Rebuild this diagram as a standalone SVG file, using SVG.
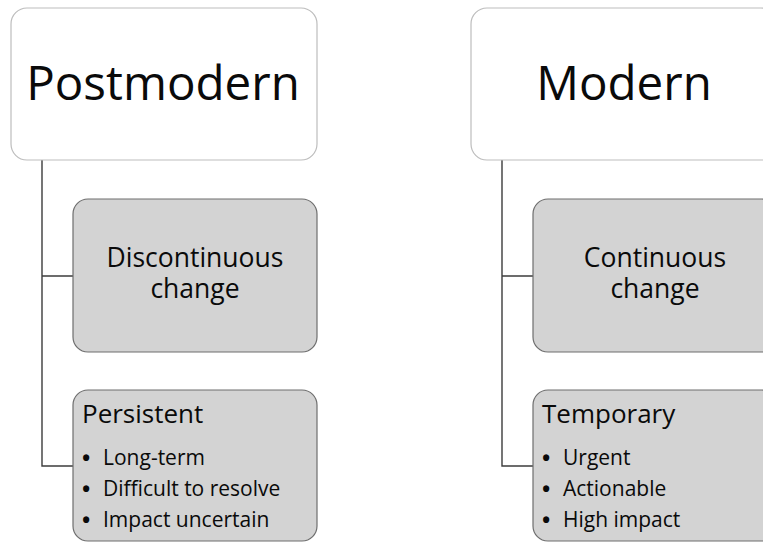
<svg xmlns="http://www.w3.org/2000/svg" width="763" height="543" viewBox="0 0 763 543">
  <style>
    .head { fill: #ffffff; stroke: #bdbdbd; stroke-width: 1.2; }
    .item { fill: #d3d3d3; stroke: #6e6e6e; stroke-width: 1.2; }
    .link { fill: none; stroke: #3c3c3c; stroke-width: 1.4; }
    text { font-family: "Open Sans", "Noto Sans", "Liberation Sans", sans-serif; fill: #0a0a0a; }
    .big { font-size: 47.5px; text-anchor: middle; }
    .mid { font-size: 26.5px; text-anchor: middle; }
    .title { font-size: 26px; }
    .bul { font-size: 21px; }
    .dot { font-size: 22px; font-weight: bold; }
  </style>

  <g id="connectors">
    <path class="link" d="M42,160 V466 H73 M42,276 H73"/>
    <path class="link" d="M502,160 V466 H533 M502,276 H533"/>
  </g>

  <g id="postmodern">
    <rect class="head" x="11" y="8" width="306" height="152" rx="16"/>
    <text class="big" x="163" y="100">Postmodern</text>
  </g>
  <g id="discontinuous">
    <rect class="item" x="73" y="199" width="244" height="153" rx="15"/>
    <text class="mid" x="195" y="267">Discontinuous<tspan x="195" dy="31">change</tspan></text>
  </g>
  <g id="persistent">
    <rect class="item" x="73" y="390" width="244" height="151" rx="15"/>
    <text class="title" x="82" y="423">Persistent</text>
    <text class="bul"><tspan class="dot" x="82" y="466">•</tspan><tspan x="103" y="465">Long-term</tspan><tspan class="dot" x="82" y="497">•</tspan><tspan x="103" y="496">Difficult to resolve</tspan><tspan class="dot" x="82" y="528">•</tspan><tspan x="103" y="527">Impact uncertain</tspan></text>
  </g>

  <g id="modern">
    <rect class="head" x="471" y="8" width="306" height="152" rx="16"/>
    <text class="big" x="624" y="100">Modern</text>
  </g>
  <g id="continuous">
    <rect class="item" x="533" y="199" width="244" height="153" rx="15"/>
    <text class="mid" x="655" y="267">Continuous<tspan x="655" dy="31">change</tspan></text>
  </g>
  <g id="temporary">
    <rect class="item" x="533" y="390" width="244" height="151" rx="15"/>
    <text class="title" x="542" y="423">Temporary</text>
    <text class="bul"><tspan class="dot" x="542" y="466">•</tspan><tspan x="563" y="465">Urgent</tspan><tspan class="dot" x="542" y="497">•</tspan><tspan x="563" y="496">Actionable</tspan><tspan class="dot" x="542" y="528">•</tspan><tspan x="563" y="527">High impact</tspan></text>
  </g>
</svg>
